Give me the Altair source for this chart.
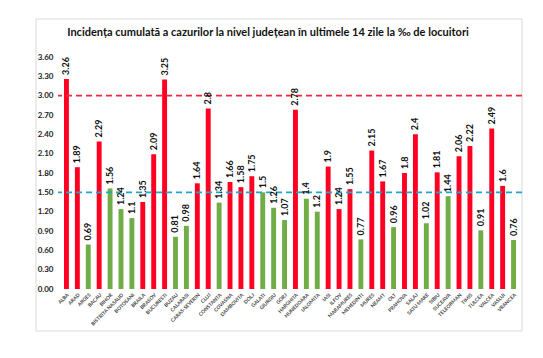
import altair as alt
import pandas as pd

counties = ["ALBA", "ARAD", "ARGES", "BACAU", "BIHOR", "BISTRITA NASAUD", "BOTOSANI", "BRAILA",
            "BRASOV", "BUCURESTI", "BUZAU", "CALARASI", "CARAS-SEVERIN", "CLUJ", "CONSTANTA",
            "COVASNA", "DAMBOVITA", "DOLJ", "GALATI", "GIURGIU", "GORJ", "HARGHITA", "HUNEDOARA",
            "IALOMITA", "IASI", "ILFOV", "MARAMURES", "MEHEDINTI", "MURES", "NEAMT", "OLT",
            "PRAHOVA", "SALAJ", "SATU MARE", "SIBIU", "SUCEAVA", "TELEORMAN", "TIMIS", "TULCEA",
            "VALCEA", "VASLUI", "VRANCEA"]
labels = ["3.26", "1.89", "0.69", "2.29", "1.56", "1.24", "1.1", "1.35", "2.09", "3.25", "0.81",
          "0.98", "1.64", "2.8", "1.34", "1.66", "1.58", "1.75", "1.5", "1.26", "1.07", "2.78",
          "1.4", "1.2", "1.9", "1.24", "1.55", "0.77", "2.15", "1.67", "0.96", "1.8", "2.4",
          "1.02", "1.81", "1.44", "2.06", "2.22", "0.91", "2.49", "1.6", "0.76"]
values = [float(v) for v in labels]
status = ["up", "up", "down", "up", "down", "down", "down", "up", "up", "up", "down", "down",
          "up", "up", "down", "up", "up", "up", "down", "down", "down", "up", "down", "down",
          "up", "up", "up", "down", "up", "up", "down", "up", "up", "down", "up", "down", "up",
          "up", "down", "up", "up", "down"]
ref_values = [3.0, 1.5]
ref_kind = ["high", "mid"]
y_ticks = [0, 0.3, 0.6, 0.9, 1.2, 1.5, 1.8, 2.1, 2.4, 2.7, 3.0, 3.3, 3.6]
title_text = ["Incidența cumulată a cazurilor la nivel județean în ultimele 14 zile la ‰ de locuitori"]

df = pd.DataFrame({"judet": counties, "val": values, "lab": labels, "st": status})
refs = pd.DataFrame({"y": ref_values, "k": ref_kind})
tdf = pd.DataFrame({"t": title_text})

FONT = "Lato"
xscale = alt.Scale(paddingInner=0.55, paddingOuter=0.55)
xaxis = alt.Axis(labelAngle=-45, labelFontSize=5, labelFontWeight="bold",
                 labelColor="#444", domain=False, ticks=False, labelPadding=3,
                 labelFont=FONT, labelOverlap=False)
yscale = alt.Scale(domain=[0, 3.6], nice=False)
yaxis = alt.Axis(values=y_ticks, format=".2f", grid=False, domain=False, ticks=False,
                 labelPadding=5, labelFontSize=8, labelFontWeight="bold",
                 labelColor="#222", labelFont=FONT, labelOverlap=False)

bars = alt.Chart(df).mark_bar().encode(
    x=alt.X("judet:N", sort=counties, title=None, scale=xscale, axis=xaxis),
    y=alt.Y("val:Q", scale=yscale, title=None, axis=yaxis),
    color=alt.Color("st:N", scale=alt.Scale(domain=["up", "down"], range=["#FF0022", "#70AD47"]),
                    legend=None),
)

text = alt.Chart(df).mark_text(angle=270, align="left", baseline="middle", dx=4,
                               fontSize=9, fontWeight="bold", font=FONT, color="#111").encode(
    x=alt.X("judet:N", sort=counties, title=None, scale=xscale, axis=xaxis),
    y=alt.Y("val:Q", scale=yscale, title=None, axis=yaxis),
    text="lab:N",
)

rules = alt.Chart(refs).mark_rule(strokeDash=[6, 4], strokeWidth=1.6).encode(
    y=alt.Y("y:Q", scale=yscale, title=None, axis=yaxis),
    color=alt.Color("k:N", scale=alt.Scale(domain=["high", "mid"], range=["#F0283C", "#1FA6CC"]),
                    legend=None),
)

frame = alt.Chart(refs.head(1)).mark_rect(fill=None, stroke="#d9d9d9", strokeWidth=1).encode(
    x=alt.value(-22), x2=alt.value(464), y=alt.value(-38), y2=alt.value(274))

title = alt.Chart(tdf).mark_text(fontSize=11, fontWeight="bold", font=FONT, color="#111",
                                 align="center", baseline="middle").encode(
    x=alt.value(210), y=alt.value(-24), text="t:N")

chart = alt.layer(frame, bars, rules, text, title).properties(
    width=464, height=232,
    autosize=alt.AutoSizeParams(type="none"),
    padding={"left": 50, "top": 49, "right": 13, "bottom": 50},
).configure_view(stroke=None).configure_axisY(labelOverlap=False).resolve_scale(color="independent")

chart.save("out.html", embed_options={"renderer": "svg", "actions": False})
